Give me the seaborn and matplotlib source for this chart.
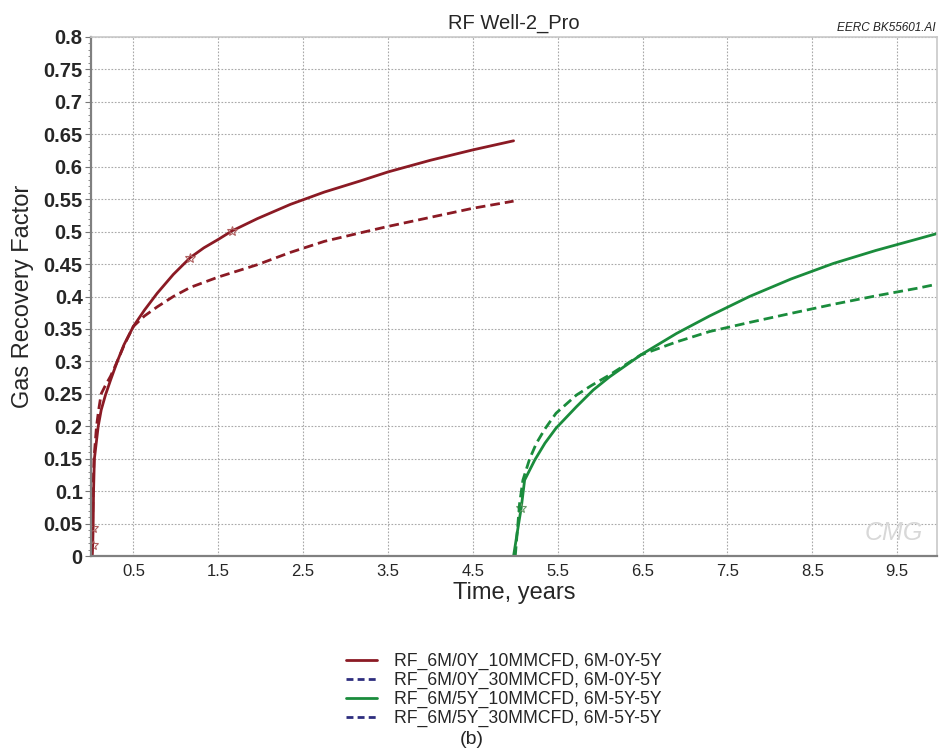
import numpy as np
import pandas as pd
import seaborn as sns
import matplotlib.pyplot as plt
from matplotlib.lines import Line2D
from matplotlib.ticker import MultipleLocator

# recovery factor curves (time in years)
t_0y_10 = [0.012, 0.02, 0.025, 0.03, 0.04, 0.085, 0.12, 0.17, 0.23, 0.31, 0.39, 0.5, 0.63,
           0.78, 0.97, 1.17, 1.33, 1.5, 1.66, 1.96, 2.35, 2.75, 3.17, 3.5, 4.0, 4.5, 4.98]
rf_0y_10 = [0.0, 0.017, 0.043, 0.1, 0.15, 0.2, 0.225, 0.248, 0.271, 0.3, 0.326, 0.354, 0.379,
            0.405, 0.434, 0.46, 0.475, 0.488, 0.501, 0.52, 0.542, 0.561, 0.578, 0.592,
            0.61, 0.626, 0.64]

t_0y_30 = [0.012, 0.018, 0.025, 0.035, 0.065, 0.09, 0.12, 0.17, 0.23, 0.31, 0.39, 0.5, 0.63,
           0.78, 0.97, 1.17, 1.5, 1.96, 2.35, 2.75, 3.17, 3.5, 4.0, 4.5, 4.98]
rf_0y_30 = [0.0, 0.05, 0.1, 0.15, 0.2, 0.225, 0.25, 0.263, 0.277, 0.3, 0.325, 0.354, 0.37,
            0.384, 0.4, 0.414, 0.43, 0.449, 0.468, 0.485, 0.498, 0.508, 0.522, 0.536, 0.547]

t_5y_10 = [4.98, 5.04, 5.07, 5.11, 5.23, 5.35, 5.48, 5.72, 5.92, 6.11, 6.48, 6.9, 7.29, 7.76,
           8.25, 8.75, 9.25, 9.75, 9.97]
rf_5y_10 = [0.0, 0.05, 0.074, 0.117, 0.148, 0.174, 0.197, 0.23, 0.256, 0.276, 0.31, 0.343,
            0.37, 0.4, 0.427, 0.451, 0.471, 0.489, 0.497]

t_5y_30 = [5.0, 5.05, 5.09, 5.17, 5.25, 5.35, 5.48, 5.72, 5.9, 6.11, 6.48, 6.9, 7.29, 7.76,
           8.25, 8.75, 9.25, 9.75, 9.97]
rf_5y_30 = [0.0, 0.08, 0.117, 0.15, 0.174, 0.196, 0.22, 0.248, 0.263, 0.279, 0.31, 0.33,
            0.346, 0.36, 0.374, 0.388, 0.401, 0.413, 0.419]

labels = ['RF_6M/0Y_10MMCFD, 6M-0Y-5Y', 'RF_6M/0Y_30MMCFD, 6M-0Y-5Y',
          'RF_6M/5Y_10MMCFD, 6M-5Y-5Y', 'RF_6M/5Y_30MMCFD, 6M-5Y-5Y']
xticks = [0.5, 1.5, 2.5, 3.5, 4.5, 5.5, 6.5, 7.5, 8.5, 9.5]

red = '#8b1a24'
green = '#1a8c3c'
navy = '#2e2e7e'

sns.set_style('white')
plt.rcParams['font.family'] = ['Liberation Sans', 'DejaVu Sans']

fig = plt.figure(figsize=(9.42, 7.52), dpi=100)
ax = fig.add_axes([91 / 942, 196 / 752, 846 / 942, 519 / 752])

df1 = pd.DataFrame({'t': t_0y_10, 'rf': rf_0y_10})
df2 = pd.DataFrame({'t': t_0y_30, 'rf': rf_0y_30})
df3 = pd.DataFrame({'t': t_5y_10, 'rf': rf_5y_10})
df4 = pd.DataFrame({'t': t_5y_30, 'rf': rf_5y_30})

sns.lineplot(data=df1, x='t', y='rf', ax=ax, color=red, lw=2, estimator=None, sort=False,
             marker='*', markevery=[1, 2, 15, 18], ms=7, mfc='none', mec='#b06060', mew=0.8)
sns.lineplot(data=df2, x='t', y='rf', ax=ax, color=red, lw=2, ls=(0, (3.5, 1.8)),
             estimator=None, sort=False)
sns.lineplot(data=df3, x='t', y='rf', ax=ax, color=green, lw=2, estimator=None, sort=False,
             marker='*', markevery=[2], ms=7, mfc='none', mec='#6a9a6a', mew=0.8)
sns.lineplot(data=df4, x='t', y='rf', ax=ax, color=green, lw=2, ls=(0, (3.5, 1.8)),
             estimator=None, sort=False)

ax.set_xlim(0, 9.97)
ax.set_ylim(0, 0.8)
ax.set_xticks(xticks)
ax.set_xticklabels([str(v) for v in xticks], fontsize=12)
ax.yaxis.set_major_locator(MultipleLocator(0.05))
ax.yaxis.set_minor_locator(MultipleLocator(0.01))
ax.set_yticklabels([('%g' % v) for v in ax.get_yticks()], fontsize=14.5, fontweight='bold')
ax.tick_params(axis='y', which='major', direction='out', length=4, width=0.8, color='#777777',
               left=True, pad=2)
ax.tick_params(axis='y', which='minor', direction='out', length=2, width=0.6, color='#777777',
               left=True)
ax.tick_params(axis='x', direction='out', length=0, pad=6)
ax.grid(True, which='major', color='#a8a8a8', ls=(0, (1.5, 1.5)), lw=0.8)

for side in ['top', 'right']:
    ax.spines[side].set_color('#c8c8c8')
    ax.spines[side].set_linewidth(1.2)
for side in ['left', 'bottom']:
    ax.spines[side].set_color('#808080')
    ax.spines[side].set_linewidth(1.6)

ax.set_xlabel('Time, years', fontsize=17, labelpad=2)
ax.set_ylabel('Gas Recovery Factor', fontsize=17, labelpad=7)
ax.set_title('RF Well-2_Pro', fontsize=14.5, pad=6)

fig.text(0.993, 0.955, 'EERC BK55601.AI', ha='right', va='bottom', fontsize=8.5,
         style='italic', color='#222222')
ax.text(0.983, 0.045, 'CMG', transform=ax.transAxes, ha='right', va='center',
        fontsize=18, color='#d8d8d8', style='italic')

handles = [Line2D([], [], color=red, lw=2),
           Line2D([], [], color=navy, lw=2, ls=(0, (2.5, 1.5))),
           Line2D([], [], color=green, lw=2),
           Line2D([], [], color=navy, lw=2, ls=(0, (2.5, 1.5)))]
fig.legend(handles, labels, loc='upper left', bbox_to_anchor=(346 / 942, 1 - 653 / 752),
           frameon=False, fontsize=12.7, handlelength=1.75, handletextpad=0.95,
           labelspacing=0.1, borderpad=0, borderaxespad=0)

fig.text(472 / 942, 1 - 740 / 752, '(b)', ha='center', va='center', fontsize=14)

fig.savefig('out.png', dpi=100)
